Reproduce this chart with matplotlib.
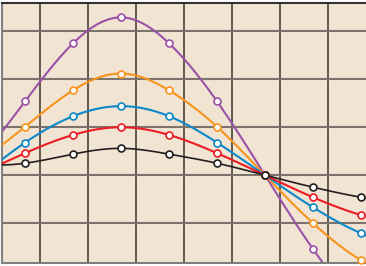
import numpy as np
import matplotlib
matplotlib.use("Agg")
import matplotlib.pyplot as plt

# marker positions (one per step) and the values
x_pts = np.arange(8)
purple = [1.54, 2.75, 3.29, 2.75, 1.54, 0.0, -1.54, -2.75]
orange = [1.01, 1.77, 2.12, 1.77, 1.01, 0.0, -1.00, -1.77]
blue = [0.68, 1.23, 1.44, 1.23, 0.68, 0.0, -0.67, -1.21]
red = [0.46, 0.84, 1.00, 0.84, 0.46, 0.0, -0.46, -0.83]
black = [0.25, 0.44, 0.56, 0.44, 0.25, 0.0, -0.25, -0.46]

series = [
    (purple, "#9b51a8"),
    (orange, "#f7941d"),
    (blue, "#0c87c9"),
    (red, "#ed1c24"),
    (black, "#231f20"),
]


def spline(x, y, xs):
    """not-a-knot cubic spline on uniform knots, only for drawing a smooth line"""
    y = np.asarray(y, dtype=float)
    n = len(x)
    h = 1.0
    A = np.zeros((n, n))
    b = np.zeros(n)
    A[0, :3] = [1, -2, 1]
    A[-1, -3:] = [1, -2, 1]
    for i in range(1, n - 1):
        A[i, i - 1:i + 2] = [h, 4 * h, h]
        b[i] = 6 * (y[i + 1] - 2 * y[i] + y[i - 1]) / h
    M = np.linalg.solve(A, b)
    idx = np.clip(np.floor(xs).astype(int), 0, n - 2)
    x0 = x[idx]
    x1 = x[idx + 1]
    return (M[idx] * (x1 - xs) ** 3 / (6 * h) + M[idx + 1] * (xs - x0) ** 3 / (6 * h)
            + (y[idx] / h - M[idx] * h / 6) * (x1 - xs)
            + (y[idx + 1] / h - M[idx + 1] * h / 6) * (xs - x0))


fig = plt.figure(figsize=(3.66, 2.66), dpi=100)
ax = fig.add_axes([2 / 366, 3 / 266, 364 / 366, 260 / 266])
ax.set_facecolor("#f2e4d2")
ax.set_xlim(-0.48, 7.104)
ax.set_ylim(-1.83, 3.59)

# grid
for gx in np.arange(7) + 0.302:
    ax.axvline(gx, color="#3b342e", linewidth=1.1, zorder=1)
for gy in range(-1, 4):
    ax.axhline(gy, color="#7c746c", linewidth=1.5, zorder=1)

xs = np.linspace(-0.5, 7.2, 400)
for k, (vals, col) in enumerate(series):
    lw = 1.2 if col == "#231f20" else 1.5
    ax.plot(xs, spline(x_pts, vals, xs), color=col, linewidth=lw, zorder=2 + k)
    ax.plot(x_pts, vals, linestyle="none", marker="o", markersize=5,
            markerfacecolor="white", markeredgecolor=col, markeredgewidth=1.2,
            zorder=10 + k, clip_on=False)

ax.set_xticks([])
ax.set_yticks([])
for side in ["left", "bottom"]:
    ax.spines[side].set_color("#808080")
    ax.spines[side].set_linewidth(1.5)
ax.spines["top"].set_color("#333333")
ax.spines["top"].set_linewidth(1.5)
ax.spines["right"].set_visible(False)

fig.savefig("out.png", dpi=100)
